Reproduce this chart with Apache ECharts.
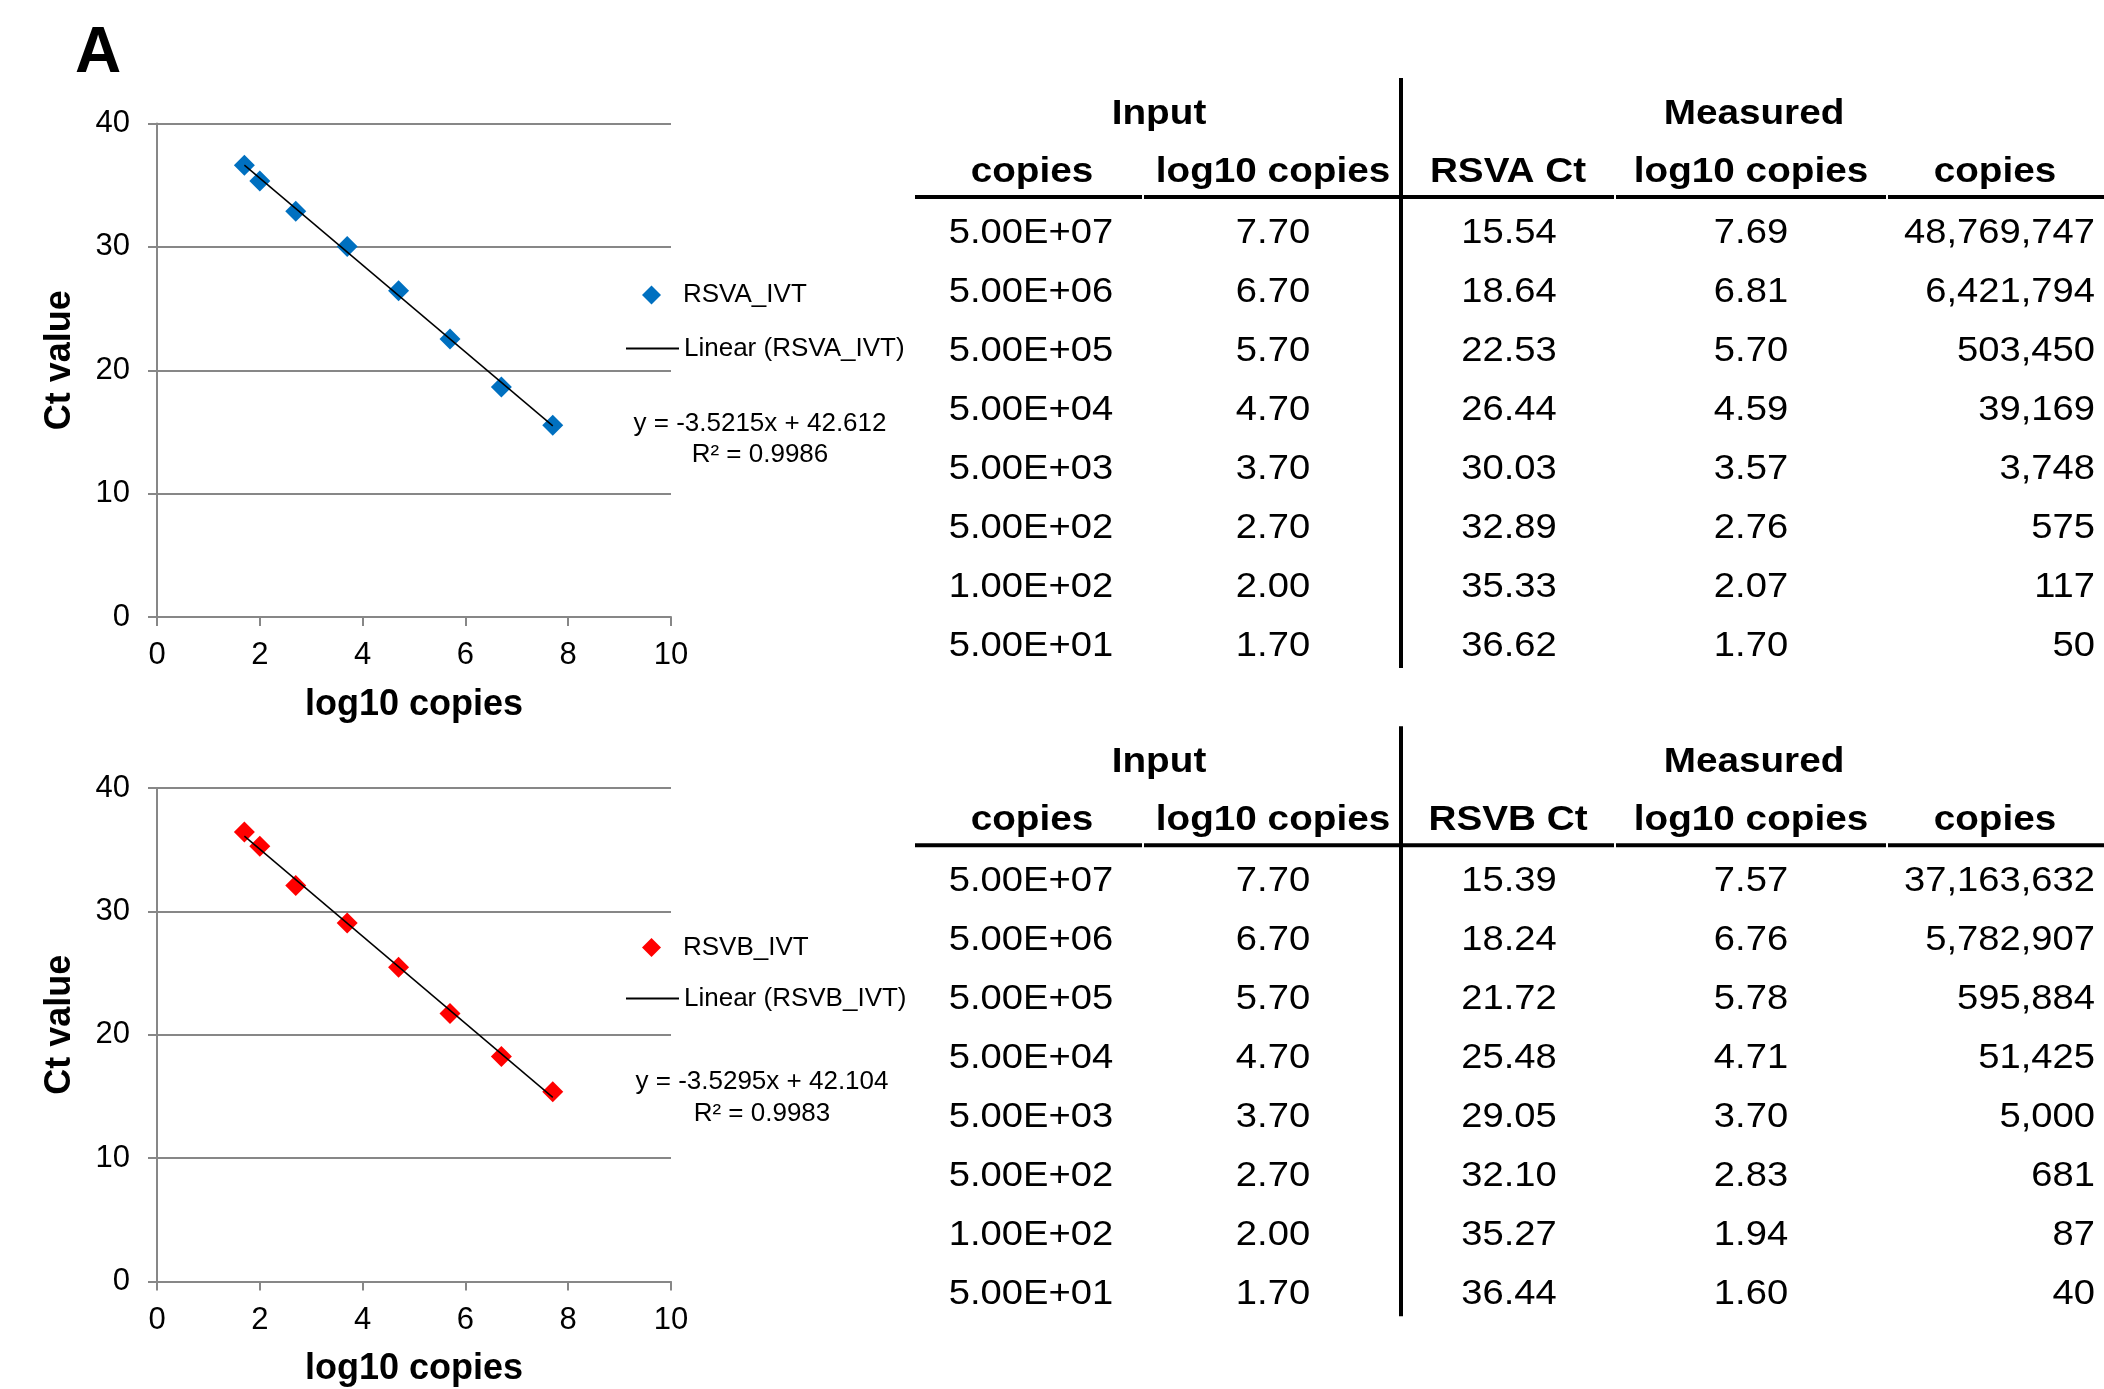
<!DOCTYPE html>
<html><head><meta charset="utf-8">
<script src="https://cdn.jsdelivr.net/npm/echarts@6/dist/echarts.min.js"></script>
<style>html,body{margin:0;padding:0;background:#fff}#c{width:2104px;height:1389px}</style>
</head><body><div id="c"></div>
<script>
const FONT = '"Liberation Sans", Arial, Helvetica, sans-serif';

// ---- data ----
const inputCopies = ['5.00E+07','5.00E+06','5.00E+05','5.00E+04','5.00E+03','5.00E+02','1.00E+02','5.00E+01'];
const inputLog = [7.70, 6.70, 5.70, 4.70, 3.70, 2.70, 2.00, 1.70];
const rsvaCt = [15.54, 18.64, 22.53, 26.44, 30.03, 32.89, 35.33, 36.62];
const rsvaMeasLog = [7.69, 6.81, 5.70, 4.59, 3.57, 2.76, 2.07, 1.70];
const rsvaMeasCopies = [48769747, 6421794, 503450, 39169, 3748, 575, 117, 50];
const rsvbCt = [15.39, 18.24, 21.72, 25.48, 29.05, 32.10, 35.27, 36.44];
const rsvbMeasLog = [7.57, 6.76, 5.78, 4.71, 3.70, 2.83, 1.94, 1.60];
const rsvbMeasCopies = [37163632, 5782907, 595884, 51425, 5000, 681, 87, 40];
const rsvaFit = { slope: -3.5215, intercept: 42.612, r2: '0.9986' };
const rsvbFit = { slope: -3.5295, intercept: 42.104, r2: '0.9983' };
const xTicks = { min: 0, max: 10, interval: 2 };
const yTicks = { min: 0, max: 40, interval: 10 };
const tableHeaderTop = ['Input', 'Measured'];
const colHeadersA = ['copies', 'log10 copies', 'RSVA Ct', 'log10 copies', 'copies'];
const colHeadersB = ['copies', 'log10 copies', 'RSVB Ct', 'log10 copies', 'copies'];

const GRID_COLOR = '#878787';
const chart = echarts.init(document.getElementById('c'), null, { renderer: 'canvas' });

function xAxis(gi) {
  return {
    gridIndex: gi, type: 'value', min: xTicks.min, max: xTicks.max, interval: xTicks.interval,
    axisLine: { show: true, onZero: false, lineStyle: { color: GRID_COLOR, width: 2 } },
    axisTick: { show: true, length: 9, lineStyle: { color: GRID_COLOR, width: 2 } },
    axisLabel: { fontSize: 31, color: '#000', margin: 23, fontFamily: FONT },
    splitLine: { show: false },
    name: 'log10 copies', nameLocation: 'middle', nameGap: 70,
    nameTextStyle: { fontSize: 36, fontWeight: 'bold', color: '#000', fontFamily: FONT }
  };
}
function yAxis(gi) {
  return {
    gridIndex: gi, type: 'value', min: yTicks.min, max: yTicks.max, interval: yTicks.interval,
    axisLine: { show: true, lineStyle: { color: GRID_COLOR, width: 2 } },
    axisTick: { show: true, length: 9, lineStyle: { color: GRID_COLOR, width: 2 } },
    axisLabel: { fontSize: 31, color: '#000', margin: 27, fontFamily: FONT },
    splitLine: { show: true, lineStyle: { color: GRID_COLOR, width: 2 } },
    name: 'Ct value', nameLocation: 'middle', nameGap: 79,
    nameTextStyle: { fontSize: 36, fontWeight: 'bold', color: '#000', fontFamily: FONT, padding: [0, 0, 0, 20] }
  };
}
function trend(fit, xs) {
  const lo = Math.min(...xs), hi = Math.max(...xs);
  return [[lo, fit.slope * lo + fit.intercept], [hi, fit.slope * hi + fit.intercept]];
}
function fmtFit(fit) {
  return 'y = ' + fit.slope.toFixed(4) + 'x + ' + fit.intercept.toFixed(3);
}

// ---- tables (graphic text) ----
const SX = 1.09;
const colX = [1031, 1273, 1509, 1751];
const copiesRight = 2095;
function tableElems(dy, heads, ct, mlog, mcopies) {
  const els = [];
  const T = (text, x, y, opt) => els.push(Object.assign({
    type: 'text', x: x, y: y + dy, scaleX: SX,
    style: Object.assign({ text: text, fontSize: 35, fontFamily: FONT, fill: '#000', align: 'center', verticalAlign: 'middle' }, opt || {})
  }));
  T(tableHeaderTop[0], 1159, 114, { fontWeight: 'bold', fontSize: 35.5 });
  T(tableHeaderTop[1], 1754, 114, { fontWeight: 'bold', fontSize: 35.5 });
  const hx = [1032, 1273, 1508, 1751, 1995];
  heads.forEach((h, i) => T(h, hx[i], 172.5, { fontWeight: 'bold', fontSize: 35.5 }));
  for (let i = 0; i < 8; i++) {
    const y = 233 + i * 59.04;
    T(inputCopies[i], colX[0], y);
    T(inputLog[i].toFixed(2), colX[1], y);
    T(ct[i].toFixed(2), colX[2], y);
    T(mlog[i].toFixed(2), colX[3], y);
    T(mcopies[i].toLocaleString('en-US'), copiesRight, y, { align: 'right' });
  }
  // rule under headers (small gaps at cell borders)
  const segs = [[915, 1142], [1144, 1614], [1616, 1886], [1888, 2104]];
  segs.forEach(s => els.push({ type: 'rect', shape: { x: s[0], y: 195 + dy, width: s[1] - s[0], height: 4 }, style: { fill: '#000' } }));
  // vertical divider
  els.push({ type: 'rect', shape: { x: 1399, y: 78 + dy, width: 4, height: 590 }, style: { fill: '#000' } });
  return els;
}

function fitText(fit, cx, y1, y2) {
  return [
    { type: 'text', x: cx, y: y1, style: { text: fmtFit(fit), fontSize: 26, fontFamily: FONT, fill: '#000', align: 'center', verticalAlign: 'middle' } },
    { type: 'text', x: cx, y: y2, style: { text: 'R² = ' + fit.r2, fontSize: 26, fontFamily: FONT, fill: '#000', align: 'center', verticalAlign: 'middle' } }
  ];
}

const graphics = [].concat(
  [{ type: 'text', x: 98, y: 54, style: { text: 'A', fontSize: 64, fontWeight: 'bold', fontFamily: FONT, fill: '#000', align: 'center', verticalAlign: 'middle' } }],
  fitText(rsvaFit, 760, 424, 455),
  fitText(rsvbFit, 762, 1082, 1114),
  tableElems(0, colHeadersA, rsvaCt, rsvaMeasLog, rsvaMeasCopies),
  tableElems(648.2, colHeadersB, rsvbCt, rsvbMeasLog, rsvbMeasCopies)
);

const legTxt = { fontSize: 26, lineHeight: 26, color: '#000', fontFamily: FONT };
function markerLegend(name, top) {
  return { orient: 'vertical', left: 642, top: top, padding: 0, itemWidth: 19, itemHeight: 19, selectedMode: false,
    textStyle: Object.assign({ padding: [0, 0, 0, 17] }, legTxt),
    data: [{ name: name, icon: 'diamond', itemStyle: { opacity: 1 } }] };
}
function lineLegend(name, top) {
  return { orient: 'vertical', left: 625, top: top, padding: 0, itemWidth: 53, itemHeight: 18, selectedMode: false,
    textStyle: legTxt,
    data: [{ name: name, itemStyle: { opacity: 0 } }] };
}

chart.setOption({
  animation: false,
  backgroundColor: '#fff',
  grid: [
    { left: 157, top: 123.5, width: 514, height: 493.5 },
    { left: 157, top: 788, width: 514, height: 493.5 }
  ],
  xAxis: [xAxis(0), xAxis(1)],
  yAxis: [yAxis(0), yAxis(1)],
  legend: [
    markerLegend('RSVA_IVT', 282),
    lineLegend('Linear (RSVA_IVT)', 335.5),
    markerLegend('RSVB_IVT', 934.5),
    lineLegend('Linear (RSVB_IVT)', 985.5)
  ],
  series: [
    { type: 'scatter', name: 'RSVA_IVT', xAxisIndex: 0, yAxisIndex: 0, symbol: 'diamond', symbolSize: 21,
      itemStyle: { color: '#0070C0', opacity: 1 }, data: inputLog.map((x, i) => [x, rsvaCt[i]]), z: 2 },
    { type: 'line', name: 'Linear (RSVA_IVT)', xAxisIndex: 0, yAxisIndex: 0, symbol: 'none',
      lineStyle: { color: '#000', width: 1.5 }, itemStyle: { color: '#000' }, data: trend(rsvaFit, inputLog), z: 3 },
    { type: 'scatter', name: 'RSVB_IVT', xAxisIndex: 1, yAxisIndex: 1, symbol: 'diamond', symbolSize: 21,
      itemStyle: { color: '#FF0000', opacity: 1 }, data: inputLog.map((x, i) => [x, rsvbCt[i]]), z: 2 },
    { type: 'line', name: 'Linear (RSVB_IVT)', xAxisIndex: 1, yAxisIndex: 1, symbol: 'none',
      lineStyle: { color: '#000', width: 1.5 }, itemStyle: { color: '#000' }, data: trend(rsvbFit, inputLog), z: 3 }
  ],
  graphic: graphics
});
</script></body></html>
